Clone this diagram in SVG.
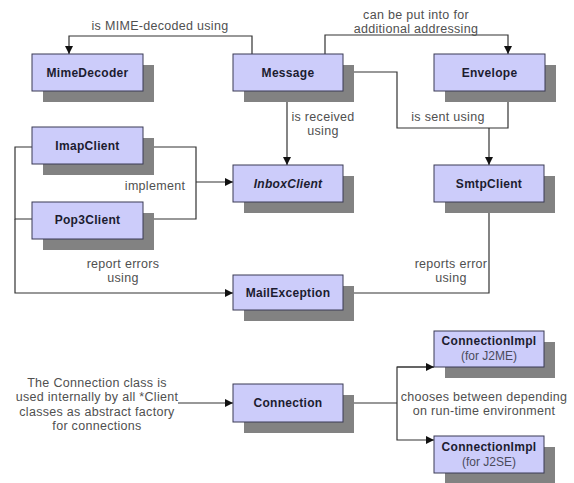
<svg xmlns="http://www.w3.org/2000/svg" width="574" height="483" viewBox="0 0 574 483">
  <style>
    .shadow { fill: #828282; }
    .box { fill: #ccccfa; stroke: #3a3a55; stroke-width: 1; }
    .name { font-family: "Liberation Sans", Arial, sans-serif; font-size: 12px; font-weight: bold; fill: #1c1c30; text-anchor: middle; letter-spacing: 0.3px; }
    .sub { font-family: "Liberation Sans", Arial, sans-serif; font-size: 12px; fill: #4a4a5a; text-anchor: middle; }
    .label { font-family: "Liberation Sans", Arial, sans-serif; font-size: 12.5px; fill: #505050; text-anchor: middle; letter-spacing: 0.3px; }
    .wire { fill: none; stroke: #333; stroke-width: 1.2; }
  </style>
  <defs>
    <marker id="arrow" viewBox="0 0 10 10" refX="10" refY="5" markerWidth="8" markerHeight="8" markerUnits="userSpaceOnUse" orient="auto">
      <path d="M0,0 L10,5 L0,10 z" fill="#111"/>
    </marker>
  </defs>
  <rect width="574" height="483" fill="#ffffff"/>

  <!-- connectors -->
  <g id="connectors">
    <path class="wire" d="M252,54 V36 H69 V54" marker-end="url(#arrow)"/>
    <path class="wire" d="M325,54 V35 H508 V54" marker-end="url(#arrow)"/>
    <path class="wire" d="M287,91 V165" marker-end="url(#arrow)"/>
    <path class="wire" d="M343,72 H397 V128 H508 V91"/>
    <path class="wire" d="M489,128 V165" marker-end="url(#arrow)"/>
    <path class="wire" d="M143,147 H196 V219 H143"/>
    <path class="wire" d="M196,182 H233" marker-end="url(#arrow)"/>
    <path class="wire" d="M32,147 H15 V219 H32"/>
    <path class="wire" d="M15,219 V293 H233" marker-end="url(#arrow)"/>
    <path class="wire" d="M489,202 V293 H343" marker-end="url(#arrow)"/>
    <path class="wire" d="M178,403 H233" marker-end="url(#arrow)"/>
    <path class="wire" d="M343,403 H397"/>
    <path class="wire" d="M434,367 H397 V440 H434" marker-end="url(#arrow)"/>
    <path class="wire" d="M397,367 H434" marker-end="url(#arrow)"/>

    <text class="label" x="160" y="30">is MIME-decoded using</text>
    <text class="label" x="416" y="19">can be put into for</text>
    <text class="label" x="416" y="33">additional addressing</text>
    <text class="label" x="323" y="121">is received</text>
    <text class="label" x="323" y="135">using</text>
    <text class="label" x="448" y="121">is sent using</text>
    <text class="label" x="155" y="190">implement</text>
    <text class="label" x="123" y="268">report errors</text>
    <text class="label" x="123" y="282">using</text>
    <text class="label" x="451" y="268">reports error</text>
    <text class="label" x="451" y="282">using</text>
    <text class="label" x="97" y="387">The Connection class is</text>
    <text class="label" x="97" y="401">used internally by all *Client</text>
    <text class="label" x="97" y="416">classes as abstract factory</text>
    <text class="label" x="97" y="430">for connections</text>
    <text class="label" x="484" y="401">chooses between depending</text>
    <text class="label" x="484" y="415">on run-time environment</text>
  </g>

  <!-- nodes -->
  <g id="MimeDecoder">
    <rect class="shadow" x="43" y="65" width="111" height="37"/>
    <rect class="box" x="32" y="54" width="111" height="37"/>
    <text class="name" x="87.5" y="77">MimeDecoder</text>
  </g>
  <g id="Message">
    <rect class="shadow" x="244" y="65" width="110" height="37"/>
    <rect class="box" x="233" y="54" width="110" height="37"/>
    <text class="name" x="288" y="77">Message</text>
  </g>
  <g id="Envelope">
    <rect class="shadow" x="445" y="65" width="111" height="37"/>
    <rect class="box" x="434" y="54" width="111" height="37"/>
    <text class="name" x="489.5" y="77">Envelope</text>
  </g>
  <g id="ImapClient">
    <rect class="shadow" x="43" y="138" width="111" height="37"/>
    <rect class="box" x="32" y="127" width="111" height="37"/>
    <text class="name" x="87.5" y="150">ImapClient</text>
  </g>
  <g id="Pop3Client">
    <rect class="shadow" x="43" y="213" width="111" height="37"/>
    <rect class="box" x="32" y="202" width="111" height="37"/>
    <text class="name" x="87.5" y="224">Pop3Client</text>
  </g>
  <g id="InboxClient">
    <rect class="shadow" x="244" y="176" width="110" height="37"/>
    <rect class="box" x="233" y="165" width="110" height="37"/>
    <text class="name" x="288" y="188" font-style="italic">InboxClient</text>
  </g>
  <g id="SmtpClient">
    <rect class="shadow" x="445" y="176" width="110" height="37"/>
    <rect class="box" x="434" y="165" width="110" height="37"/>
    <text class="name" x="489" y="188">SmtpClient</text>
  </g>
  <g id="MailException">
    <rect class="shadow" x="244" y="286" width="110" height="35"/>
    <rect class="box" x="233" y="275" width="110" height="35"/>
    <text class="name" x="288" y="297">MailException</text>
  </g>
  <g id="Connection">
    <rect class="shadow" x="244" y="395" width="110" height="38"/>
    <rect class="box" x="233" y="384" width="110" height="38"/>
    <text class="name" x="288" y="407">Connection</text>
  </g>
  <g id="ConnectionImplJ2ME">
    <rect class="shadow" x="445" y="342" width="110" height="36"/>
    <rect class="box" x="434" y="331" width="110" height="36"/>
    <text class="name" x="489" y="345">ConnectionImpl</text>
    <text class="sub" x="489" y="360">(for J2ME)</text>
  </g>
  <g id="ConnectionImplJ2SE">
    <rect class="shadow" x="445" y="447" width="110" height="37"/>
    <rect class="box" x="434" y="436" width="110" height="37"/>
    <text class="name" x="489" y="451">ConnectionImpl</text>
    <text class="sub" x="489" y="466">(for J2SE)</text>
  </g>
</svg>
